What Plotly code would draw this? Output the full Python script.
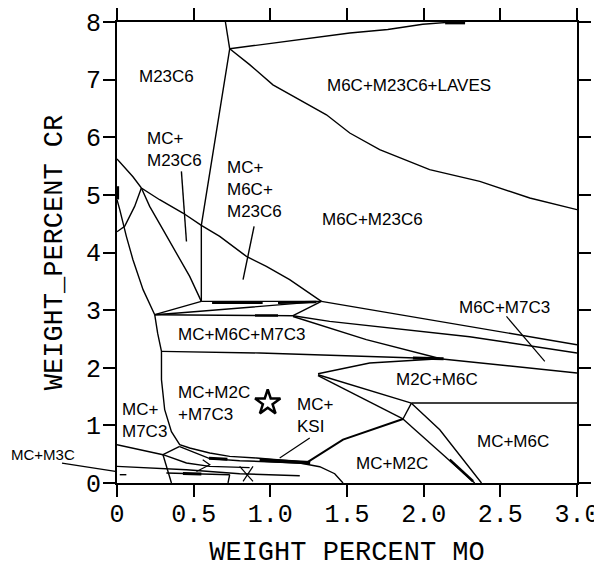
import plotly.graph_objects as go

# ---------------- tick labels ----------------
x_tickvals = [0, 0.5, 1.0, 1.5, 2.0, 2.5, 3.0]
x_ticktext = ["0", "0.5", "1.0", "1.5", "2.0", "2.5", "3.0"]
y_tickvals = [0, 1, 2, 3, 4, 5, 6, 7, 8]
y_ticktext = ["0", "1", "2", "3", "4", "5", "6", "7", "8"]

# ---------------- phase boundaries (Mo wt%, Cr wt%) ----------------
top_tie_mo = [0.707, 0.735]
top_tie_cr = [8.0, 7.535]
laves_upper_mo = [0.735, 1.518, 1.766, 1.994, 2.14, 2.27]
laves_upper_cr = [7.535, 7.81, 7.87, 7.96, 7.99, 8.0]
laves_bold_mo = [2.14, 2.27]
laves_bold_cr = [7.985, 7.985]
laves_lower_mo = [0.735, 0.865, 1.017, 1.192, 1.366, 1.518, 1.713, 2.039, 2.366, 2.692, 3.0]
laves_lower_cr = [7.535, 7.26, 6.91, 6.65, 6.39, 6.074, 5.785, 5.437, 5.234, 4.946, 4.743]
m23_m6c_mo = [0.735, 0.55, 0.55]
m23_m6c_cr = [7.535, 4.47, 3.151]
mc_m23_mo = [0, 0.104, 0.159, 0.278, 0.43, 0.55, 0.67, 0.844, 0.974, 1.126, 1.333]
mc_m23_cr = [5.623, 5.315, 5.119, 4.916, 4.685, 4.47, 4.279, 3.932, 3.759, 3.528, 3.151]
peak_left_mo = [0.159, 0.115, 0.05, 0.0]
peak_left_cr = [5.119, 4.80, 4.453, 4.36]
axis_bit_mo = [0.004, 0.004]
axis_bit_cr = [4.92, 5.15]
mc_m7_upper_mo = [0.0, 0.018, 0.061, 0.104, 0.17, 0.246]
mc_m7_upper_cr = [4.916, 4.743, 4.28, 3.875, 3.355, 2.921]
peak_right_mo = [0.159, 0.213, 0.30, 0.387, 0.474, 0.55]
peak_right_cr = [5.119, 4.80, 4.396, 3.991, 3.585, 3.151]
q_top_mo = [0.246, 0.55]
q_top_cr = [2.921, 3.151]
cr3_mo = [0.55, 1.333]
cr3_cr = [3.151, 3.151]
cr3_bold_mo = [0.62, 0.95]
cr3_bold_cr = [3.128, 3.128]
cr3_bold2_mo = [1.05, 1.30]
cr3_bold2_cr = [3.13, 3.14]
q_r_mo = [0.246, 0.40, 1.333]
q_r_cr = [2.921, 2.95, 3.151]
q_s_mo = [0.246, 1.148]
q_s_cr = [2.921, 2.903]
q_s_bold_mo = [0.90, 1.05]
q_s_bold_cr = [2.907, 2.905]
s_r_mo = [1.148, 1.333]
s_r_cr = [2.903, 3.151]
r_right_mo = [1.333, 2.30, 3.0]
r_right_cr = [3.151, 2.717, 2.40]
s_right_mo = [1.148, 1.387, 2.30, 3.0]
s_right_cr = [2.903, 2.804, 2.539, 2.256]
s_t_mo = [1.148, 1.387, 1.626, 2.105]
s_t_cr = [2.889, 2.69, 2.487, 2.16]
cr23_mo = [0.29, 0.931, 2.105, 2.366, 3.0]
cr23_cr = [2.284, 2.256, 2.157, 2.082, 1.909]
t_bold_mo = [1.93, 2.13]
t_bold_cr = [2.17, 2.155]
u_t_mo = [1.311, 1.648, 2.105]
u_t_cr = [1.897, 2.082, 2.157]
u_w_mo = [1.311, 1.92]
u_w_cr = [1.879, 1.385]
w_bottom_mo = [1.92, 2.105, 2.377]
w_bottom_cr = [1.385, 0.925, 0.0]
u_v_mo = [1.311, 1.865]
u_v_cr = [1.862, 1.111]
v_bottom_mo = [1.865, 2.333]
v_bottom_cr = [1.111, 0.0]
v_bottom_bold_mo = [2.17, 2.322]
v_bottom_bold_cr = [0.405, 0.03]
v_w_mo = [1.865, 1.92]
v_w_cr = [1.111, 1.385]
cr14_mo = [1.92, 3.0]
cr14_cr = [1.388, 1.388]
ksi_mo = [1.235, 1.474, 1.865]
ksi_cr = [0.35, 0.752, 1.111]
left_curve_mo = [0.246, 0.265, 0.29, 0.29, 0.311, 0.355, 0.409, 0.474, 0.605, 0.735, 0.909, 1.061, 1.235]
left_curve_cr = [2.921, 2.6, 2.284, 1.793, 1.272, 0.89, 0.665, 0.607, 0.521, 0.462, 0.434, 0.404, 0.361]
left_curve2_mo = [0.409, 0.605, 0.80, 1.061, 1.235]
left_curve2_cr = [0.63, 0.422, 0.387, 0.361, 0.344]
bottom_bold_mo = [0.93, 1.26]
bottom_bold_cr = [0.40, 0.35]
bottom_bold2_mo = [0.60, 0.72]
bottom_bold2_cr = [0.43, 0.41]
arc_mo = [1.192, 1.322, 1.42, 1.474]
arc_cr = [0.347, 0.283, 0.161, 0.0]
b1_mo = [0.0, 0.30, 0.453, 0.605, 0.865]
b1_cr = [0.665, 0.491, 0.347, 0.288, 0.266]
b4_mo = [0.409, 0.30]
b4_cr = [0.635, 0.491]
b5_mo = [0.30, 0.333, 0.355]
b5_cr = [0.491, 0.201, 0.0]
b6_mo = [0.0, 0.453, 0.80, 1.192]
b6_cr = [0.288, 0.231, 0.161, 0.127]
b7_mo = [0.322, 0.735]
b7_cr = [0.174, 0.144]
b7_bold_mo = [0.43, 0.55]
b7_bold_cr = [0.165, 0.158]
b8_mo = [0.735, 0.724]
b8_cr = [0.144, 0.0]
bz_mo = [0.559, 0.605, 0.518]
bz_cr = [0.404, 0.318, 0.201]
bx1_mo = [0.80, 0.887]
bx1_cr = [0.288, 0.028]
bx2_mo = [0.887, 0.822]
bx2_cr = [0.288, 0.028]
m3c_in_mo = [0.018, 0.061]
m3c_in_cr = [0.144, 0.144]

# label pointers
ptr_mc_m23_mo = [0.42, 0.453]
ptr_mc_m23_cr = [5.407, 4.192]
ptr_m6c_m23_mo = [0.894, 0.822]
ptr_m6c_m23_cr = [4.453, 3.528]
ptr_m6c_m7_mo = [2.54, 2.79]
ptr_m6c_m7_cr = [2.891, 2.11]
ptr_ksi_mo = [1.257, 1.061]
ptr_ksi_cr = [0.781, 0.434]

# alloy composition marker
star_mo = [0.983]
star_cr = [1.395]

# region labels
label_text = ["M23C6", "MC+<br>M23C6", "MC+<br>M6C+<br>M23C6", "M6C+M23C6",
              "M6C+M23C6+LAVES", "MC+M6C+M7C3", "M6C+M7C3", "M2C+M6C",
              "MC+M6C", "MC+M2C", "MC+M2C<br>+M7C3", "MC+<br>M7C3", "MC+<br>KSI"]
label_mo = [0.322, 0.181, 0.702, 1.668, 1.903, 0.817, 2.529, 2.088, 2.581, 1.795, 0.387, 0.018, 1.159]
label_cr = [7.056, 5.784, 5.09, 4.569, 6.895, 2.574, 3.051, 1.793, 0.722, 0.347, 1.388, 1.086, 1.168]
label_anchor = ["center", "left", "left", "center", "center", "center", "center", "center",
                "center", "center", "left", "left", "left"]

lines = [
    (top_tie_mo, top_tie_cr, 1.4), (laves_upper_mo, laves_upper_cr, 1.4),
    (laves_bold_mo, laves_bold_cr, 3), (laves_lower_mo, laves_lower_cr, 1.4),
    (m23_m6c_mo, m23_m6c_cr, 1.4), (mc_m23_mo, mc_m23_cr, 1.4),
    (peak_left_mo, peak_left_cr, 1.4), (axis_bit_mo, axis_bit_cr, 3),
    (mc_m7_upper_mo, mc_m7_upper_cr, 1.4), (peak_right_mo, peak_right_cr, 1.4),
    (q_top_mo, q_top_cr, 1.4), (cr3_mo, cr3_cr, 1.4), (cr3_bold_mo, cr3_bold_cr, 2.5),
    (cr3_bold2_mo, cr3_bold2_cr, 2.5), (q_r_mo, q_r_cr, 1.4), (q_s_mo, q_s_cr, 1.4),
    (q_s_bold_mo, q_s_bold_cr, 2.5), (s_r_mo, s_r_cr, 1.4), (r_right_mo, r_right_cr, 1.4),
    (s_right_mo, s_right_cr, 1.4), (s_t_mo, s_t_cr, 1.4), (cr23_mo, cr23_cr, 1.4),
    (t_bold_mo, t_bold_cr, 3), (u_t_mo, u_t_cr, 1.4), (u_w_mo, u_w_cr, 1.4),
    (w_bottom_mo, w_bottom_cr, 1.4), (u_v_mo, u_v_cr, 1.4), (v_bottom_mo, v_bottom_cr, 1.4),
    (v_bottom_bold_mo, v_bottom_bold_cr, 2.5), (v_w_mo, v_w_cr, 1.4), (cr14_mo, cr14_cr, 1.4),
    (ksi_mo, ksi_cr, 2.0), (left_curve_mo, left_curve_cr, 1.4), (left_curve2_mo, left_curve2_cr, 1.4),
    (bottom_bold_mo, bottom_bold_cr, 3.5), (bottom_bold2_mo, bottom_bold2_cr, 3),
    (arc_mo, arc_cr, 1.4), (b1_mo, b1_cr, 1.4), (b4_mo, b4_cr, 1.4), (b5_mo, b5_cr, 1.4),
    (b6_mo, b6_cr, 1.4), (b7_mo, b7_cr, 1.4), (b7_bold_mo, b7_bold_cr, 3), (b8_mo, b8_cr, 1.4),
    (bz_mo, bz_cr, 1.2), (bx1_mo, bx1_cr, 1.2), (bx2_mo, bx2_cr, 1.2), (m3c_in_mo, m3c_in_cr, 1.4),
    (ptr_mc_m23_mo, ptr_mc_m23_cr, 1.4), (ptr_m6c_m23_mo, ptr_m6c_m23_cr, 1.4),
    (ptr_m6c_m7_mo, ptr_m6c_m7_cr, 1.2), (ptr_ksi_mo, ptr_ksi_cr, 1.2),
]

fig = go.Figure()
for mo, cr, w in lines:
    fig.add_trace(go.Scatter(x=mo, y=cr, mode="lines",
                             line=dict(color="black", width=w),
                             hoverinfo="skip", showlegend=False))

fig.add_trace(go.Scatter(x=star_mo, y=star_cr, mode="markers",
                         marker=dict(symbol="star-open", size=19, color="black",
                                     line=dict(color="black", width=2.5)),
                         hoverinfo="skip", showlegend=False))

label_font = dict(family="Liberation Sans, Arial, sans-serif", size=17, color="black")
annotations = []
for t, mo, cr, anc in zip(label_text, label_mo, label_cr, label_anchor):
    annotations.append(dict(x=mo, y=cr, xref="x", yref="y", text=t, showarrow=False,
                            xanchor=anc, yanchor="middle", align="left", font=label_font))

# MC+M3C label sits outside the plot, with a pointer into the diagram
annotations.append(dict(x=-0.16, y=0.062, xref="paper", yref="paper", text="MC+M3C",
                        showarrow=False, xanchor="center", yanchor="middle",
                        font=dict(family="Liberation Sans, Arial, sans-serif", size=15, color="black")))
annotations.append(dict(x=0.0, y=0.196, xref="x", yref="y", text=" ", showarrow=True,
                        arrowhead=0, arrowwidth=1.3, arrowcolor="black",
                        ax=-57, ay=-9, font=dict(size=2)))

tick_font = dict(family="Liberation Mono, DejaVu Sans Mono, monospace", size=25, color="black")
title_font = dict(family="Liberation Mono, DejaVu Sans Mono, monospace", size=27, color="black")

axis_common = dict(showline=True, linecolor="black", linewidth=2, mirror="ticks",
                   ticks="outside", ticklen=12, tickwidth=1.6, tickcolor="black",
                   showgrid=False, zeroline=False, tickfont=tick_font, automargin=False,
                   ticklabeloverflow="allow")

# page body has an 8px margin, so the figure is sized/offset to keep the
# plot area where the reference has it
fig.update_layout(
    width=594, height=560,
    margin=dict(l=109, r=25, t=14, b=85),
    paper_bgcolor="white", plot_bgcolor="white",
    xaxis=dict(range=[0, 3], tickvals=x_tickvals, ticktext=x_ticktext,
               ticklabelstandoff=-5,
               title=dict(text="WEIGHT PERCENT MO", font=title_font, standoff=24),
               **axis_common),
    yaxis=dict(range=[0, 8], tickvals=y_tickvals, ticktext=y_ticktext,
               ticklabelstandoff=-3,
               title=dict(text="WEIGHT_PERCENT CR", font=title_font, standoff=16),
               **axis_common),
    annotations=annotations,
)

fig.write_html("out.html")
